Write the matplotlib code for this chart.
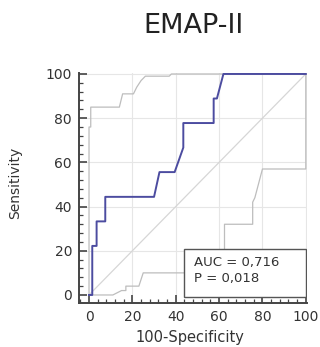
import matplotlib
matplotlib.use("Agg")
import matplotlib.pyplot as plt
from matplotlib.patches import Rectangle
from matplotlib.ticker import MultipleLocator

# ROC curve (100-Specificity, Sensitivity)
roc_x = [0, 1.5, 1.5, 3.5, 3.5, 7.5, 7.5, 30, 32.5, 39.5, 43.5, 43.5, 57.5, 57.5, 59, 62, 100]
roc_y = [0, 0, 22.2, 22.2, 33.3, 33.3, 44.4, 44.4, 55.6, 55.6, 66.7, 77.8, 77.8, 88.9, 88.9, 100, 100]

# confidence bounds
upper_x = [0, 0, 0.8, 0.8, 14, 15.5, 20.5, 22, 24, 26, 37, 38, 100]
upper_y = [0, 76, 76, 85, 85, 91, 91, 94, 97, 99, 99, 100, 100]
lower_x = [0, 11, 15, 17, 17, 23, 24, 25, 62.5, 62.5, 75.5, 75.5, 76.5, 80, 100, 100]
lower_y = [0, 0, 2, 2, 4, 4, 7, 10, 10, 32, 32, 42, 44, 57, 57, 100]

auc_text = "AUC = 0,716\nP = 0,018"

fig = plt.figure(figsize=(3.2, 3.47), dpi=100)
ax = fig.add_axes([0.247, 0.127, 0.712, 0.663])

# grid
for v in [20, 40, 60, 80, 100]:
    ax.axhline(v, color="#e6e6e6", lw=0.8, zorder=0)
    ax.axvline(v, color="#e6e6e6", lw=0.8, zorder=0)

ax.plot([0, 100], [0, 100], color="#d6d6d6", lw=0.9, zorder=1)
ax.plot(upper_x, upper_y, color="#bdbdbd", lw=0.9, zorder=2)
ax.plot(lower_x, lower_y, color="#bdbdbd", lw=0.9, zorder=2)
ax.plot(roc_x, roc_y, color="#4c4ca0", lw=1.4, zorder=3)

ax.add_patch(Rectangle((44, -0.8), 56, 21.8, facecolor="white",
                       edgecolor="#555555", lw=1.0, zorder=4))
ax.text(48.6, 11, auc_text, fontsize=9.5, color="#333333",
        va="center", ha="left", linespacing=1.25, zorder=5)

ax.set_xlim(-4.6, 100.5)
ax.set_ylim(-3.6, 100.5)
ax.xaxis.set_major_locator(MultipleLocator(20))
ax.yaxis.set_major_locator(MultipleLocator(20))
ax.xaxis.set_minor_locator(MultipleLocator(4))
ax.yaxis.set_minor_locator(MultipleLocator(4))
ax.tick_params(which="major", direction="in", length=6, width=1.2,
               color="#444444", labelsize=10, labelcolor="#333333", pad=5)
ax.tick_params(which="minor", direction="in", length=3, width=0.9, color="#444444")

for s in ["top", "right"]:
    ax.spines[s].set_visible(False)
for s in ["left", "bottom"]:
    ax.spines[s].set_color("#444444")
    ax.spines[s].set_linewidth(1.4)

ax.set_xlabel("100-Specificity", fontsize=10.5, color="#333333")
ax.set_ylabel("Sensitivity", fontsize=10, color="#333333")
ax.xaxis.set_label_coords(0.487, -0.118)
ax.yaxis.set_label_coords(-0.25, 0.52)

fig.text(0.606, 0.924, "EMAP-II", fontsize=19.5, color="#222222",
         ha="center", va="center")

fig.savefig("out.png", dpi=100)
